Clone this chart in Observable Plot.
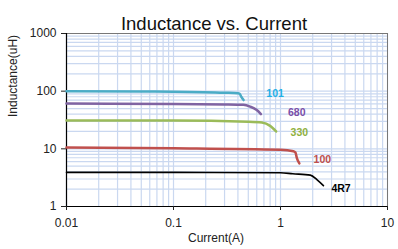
<!DOCTYPE html>
<html><head><meta charset="utf-8">
<script src="https://cdn.jsdelivr.net/npm/d3@7"></script>
<script src="https://cdn.jsdelivr.net/npm/@observablehq/plot@0.6"></script>
<style>body{margin:0;background:#fff}</style>
</head><body><div id="chart"></div>
<script>
const xTicks = [0.01, 0.1, 1, 10];
const xTickLabels = ["0.01", "0.1", "1", "10"];
const yTicks = [1, 10, 100, 1000];
const yTickLabels = ["1", "10", "100", "1000"];
const multipliers = [1, 2, 3, 4, 5, 6, 7, 8, 9];

const s101 = [[0.01,100],[0.05,99],[0.1,98],[0.3,94],[0.4,92],[0.415,90],[0.43,80],[0.452,70]];
const s680 = [[0.01,61],[0.1,60],[0.3,59],[0.45,58],[0.52,54],[0.6,47],[0.656,40]];
const s330 = [[0.01,31],[0.1,31],[0.5,29.5],[0.67,28.5],[0.8,25],[0.91,20]];
const s100 = [[0.01,10.5],[0.1,10.2],[1,9.6],[1.32,9.1],[1.38,8.6],[1.42,7],[1.5,5.6]];
const s4R7 = [[0.01,3.9],[0.1,3.9],[1,3.85],[1.3,3.7],[1.9,3.5],[2.2,2.9],[2.52,2.3]];

const series = [
  {name:"101", pts:s101, color:"#4bacc6", label:"#1fb0e6", lx:0.89, ly:90, w:2.5},
  {name:"680", pts:s680, color:"#8064a2", label:"#7a4fa8", lx:1.42, ly:42.8, w:2.5},
  {name:"330", pts:s330, color:"#9bbb59", label:"#8fb040", lx:1.5, ly:19.2, w:2.5},
  {name:"100", pts:s100, color:"#c0504d", label:"#c0504d", lx:2.46, ly:6.5, w:2.5},
  {name:"4R7", pts:s4R7, color:"#000000", label:"#000000", lx:3.68, ly:2.07, w:1.6}
];

const xGrid = [0.01, 0.1, 1].flatMap(d => multipliers.map(m => d*m)).concat([10]);
const yGrid = [1, 10, 100].flatMap(d => multipliers.map(m => d*m)).concat([1000]);

const lineData = series.flatMap(s => s.pts.map(([x,y]) => ({x, y, name:s.name})));
const labelData = series.map(s => ({x:s.lx, y:s.ly, name:s.name, c:s.label}));

const chart = Plot.plot({
  width: 398, height: 249,
  marginLeft: 66, marginRight: 11, marginTop: 33, marginBottom: 43,
  style: {fontFamily: "Liberation Sans, Arial, sans-serif", fontSize: "11px", background: "#fff", color: "#222"},
  x: {type: "log", domain: [0.01, 10], axis: null},
  y: {type: "log", domain: [1, 1000], axis: null},
  marks: [
    Plot.ruleX(xGrid, {stroke: "#cad8f0", strokeWidth: 1.2}),
    Plot.ruleY(yGrid, {stroke: "#cad8f0", strokeWidth: 1.2}),
    Plot.frame({stroke: "#777", strokeWidth: 1}),
    Plot.ruleX([0.01], {stroke: "#000", strokeWidth: 1.2}),
    Plot.ruleY([1], {stroke: "#000", strokeWidth: 1.2}),
    Plot.axisX({ticks: xTicks, tickFormat: d => xTickLabels[xTicks.indexOf(d)], tickSize: 4, tickPadding: 8, fontSize: 12, label: null}),
    Plot.axisY({ticks: yTicks, tickFormat: d => yTickLabels[yTicks.indexOf(d)], tickSize: 5, tickPadding: 5, fontSize: 12, label: null}),
    ...series.map(s => Plot.line(lineData.filter(d => d.name === s.name), {x: "x", y: "y", stroke: s.color, strokeWidth: s.w, curve: "monotone-x"})),
    Plot.text(labelData, {x: "x", y: "y", text: "name", fill: "c", fontWeight: "bold", fontSize: 10.5}),
    Plot.text(["Inductance vs. Current"], {frameAnchor: "top", dy: -17, dx: -13, fontSize: 18.5, fill: "#111"}),
    Plot.text(["Current(A)"], {frameAnchor: "bottom", dy: 35, dx: -11, fontSize: 12, fill: "#222"}),
    Plot.text(["Inductance(uH)"], {frameAnchor: "left", dx: -53, dy: -3, rotate: -90, fontSize: 12, fill: "#222"})
  ]
});
document.getElementById("chart").appendChild(chart);
</script></body></html>
